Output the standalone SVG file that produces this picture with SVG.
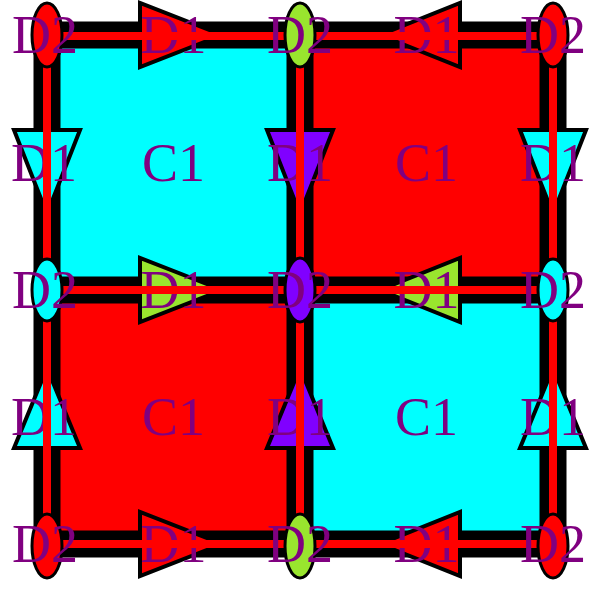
<svg xmlns="http://www.w3.org/2000/svg" width="607" height="591" viewBox="0 0 607 591">
<style>
.lbl{font-family:"Liberation Serif","Times New Roman",serif;font-size:54px;fill:#800080;text-anchor:middle}
.edge{stroke:#000;stroke-width:27;fill:none}
.core{stroke:#ff0000;stroke-width:8;fill:none}
.tri,.ell{stroke:#000;stroke-width:4}
.ell{stroke-width:3}
.red{fill:#ff0000}.cyan{fill:#00ffff}.green{fill:#99e52e}.purple{fill:#8000ff}
</style>
<rect width="607" height="591" fill="#fff"/>
<g id="cells">
<g id="c1-tl"><rect x="47" y="35" width="253" height="255" class="cyan"/><text class="lbl" x="173.5" y="181">C1</text></g>
<g id="c1-tr"><rect x="300" y="35" width="253" height="255" class="red"/><text class="lbl" x="426.5" y="181">C1</text></g>
<g id="c1-bl"><rect x="47" y="290" width="253" height="254" class="red"/><text class="lbl" x="173.5" y="435">C1</text></g>
<g id="c1-br"><rect x="300" y="290" width="253" height="254" class="cyan"/><text class="lbl" x="426.5" y="435">C1</text></g>
</g>
<g id="connectors">
<path class="edge" d="M47 35H553M47 290H553M47 544H553M47 35V544M300 35V544M553 35V544"/>
</g>
<g id="d1-nodes">
<g id="d1-t1"><polygon class="tri red" points="140,3 140,67 222,35"/><text class="lbl" x="173.5" y="53">D1</text></g>
<g id="d1-t2"><polygon class="tri red" points="460,3 460,67 380,35"/><text class="lbl" x="426.5" y="53">D1</text></g>
<g id="d1-m1"><polygon class="tri green" points="140,258 140,322 222,290"/><text class="lbl" x="173.5" y="308">D1</text></g>
<g id="d1-m2"><polygon class="tri green" points="460,258 460,322 380,290"/><text class="lbl" x="426.5" y="308">D1</text></g>
<g id="d1-b1"><polygon class="tri red" points="140,512 140,576 222,544"/><text class="lbl" x="173.5" y="562">D1</text></g>
<g id="d1-b2"><polygon class="tri red" points="460,512 460,576 380,544"/><text class="lbl" x="426.5" y="562">D1</text></g>
<g id="d1-l1"><polygon class="tri cyan" points="14,130 80,130 47,214"/><text class="lbl" x="44" y="181">D1</text></g>
<g id="d1-l2"><polygon class="tri cyan" points="14,448 80,448 47,368"/><text class="lbl" x="44" y="435">D1</text></g>
<g id="d1-c1"><polygon class="tri purple" points="267,130 333,130 300,214"/><text class="lbl" x="300" y="181">D1</text></g>
<g id="d1-c2"><polygon class="tri purple" points="267,448 333,448 300,368"/><text class="lbl" x="300" y="435">D1</text></g>
<g id="d1-r1"><polygon class="tri cyan" points="520,130 586,130 553,214"/><text class="lbl" x="553" y="181">D1</text></g>
<g id="d1-r2"><polygon class="tri cyan" points="520,448 586,448 553,368"/><text class="lbl" x="553" y="435">D1</text></g>
</g>
<g id="connector-cores">
<path class="core" d="M47 36H553M47 290H553M47 544H553M47 35V544M300 35V544M553 35V544"/>
</g>
<g id="d2-nodes">
<g id="d2-tl"><ellipse class="ell red" cx="47" cy="35" rx="15" ry="32"/><text class="lbl" x="45" y="53">D2</text></g>
<g id="d2-tm"><ellipse class="ell green" cx="300" cy="35" rx="15" ry="32"/><text class="lbl" x="300" y="53">D2</text></g>
<g id="d2-tr"><ellipse class="ell red" cx="553" cy="35" rx="15" ry="32"/><text class="lbl" x="553" y="53">D2</text></g>
<g id="d2-ml"><ellipse class="ell cyan" cx="47" cy="290" rx="15" ry="31"/><text class="lbl" x="45" y="308">D2</text></g>
<g id="d2-mm"><ellipse class="ell purple" cx="300" cy="290" rx="15" ry="32"/><text class="lbl" x="300" y="308">D2</text></g>
<g id="d2-mr"><ellipse class="ell cyan" cx="553" cy="290" rx="15" ry="31"/><text class="lbl" x="553" y="308">D2</text></g>
<g id="d2-bl"><ellipse class="ell red" cx="47" cy="546" rx="15" ry="32"/><text class="lbl" x="45" y="562">D2</text></g>
<g id="d2-bm"><ellipse class="ell green" cx="300" cy="546" rx="15" ry="32"/><text class="lbl" x="300" y="562">D2</text></g>
<g id="d2-br"><ellipse class="ell red" cx="553" cy="546" rx="15" ry="32"/><text class="lbl" x="553" y="562">D2</text></g>
</g>
</svg>
